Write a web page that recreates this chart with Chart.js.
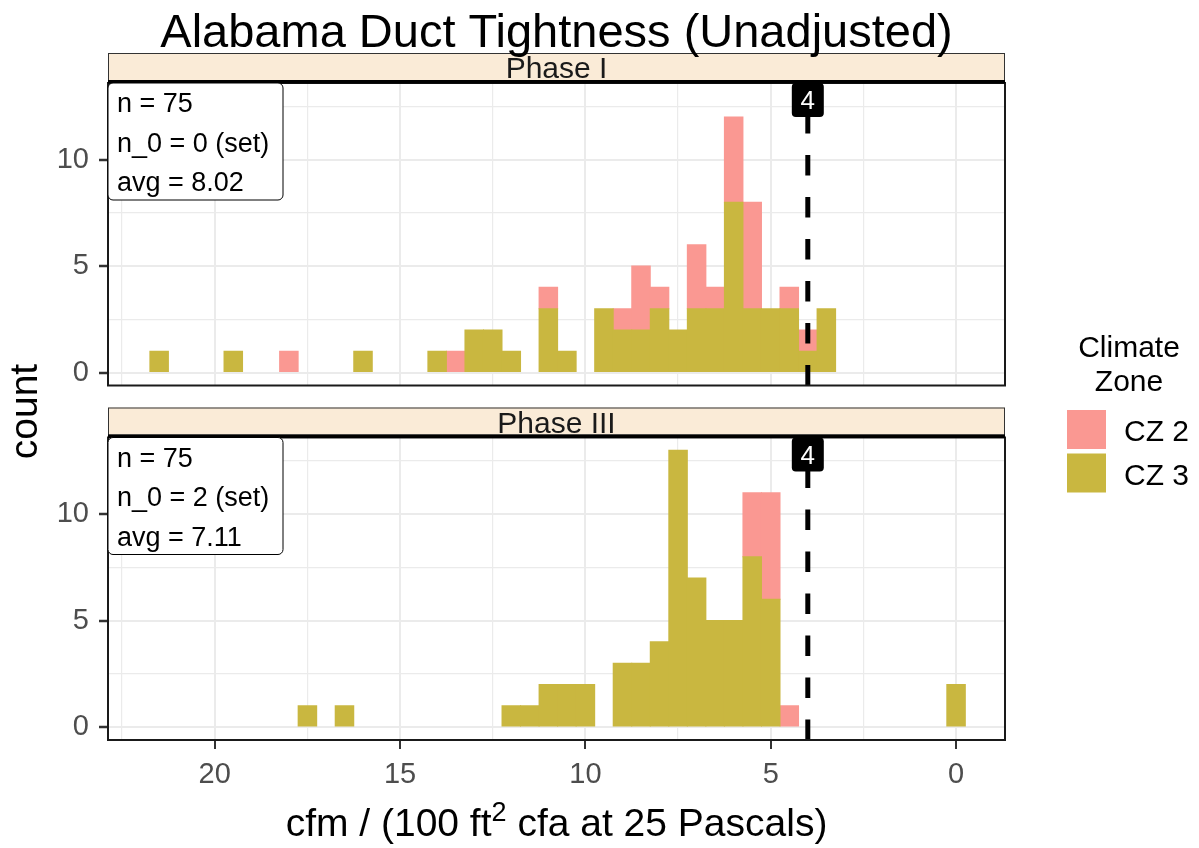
<!DOCTYPE html>
<html>
<head>
<meta charset="utf-8">
<script src="https://cdn.jsdelivr.net/npm/chart.js@4.4.1/dist/chart.umd.min.js"></script>
<style>
  html, body { margin: 0; padding: 0; background: #fff; }
  #wrap { position: relative; width: 1199px; height: 848px; overflow: hidden; }
  #wrap canvas { position: absolute; left: 0; top: 0; }
</style>
</head>
<body>
<div id="wrap">
  <canvas id="panel1" width="1199" height="848"></canvas>
  <canvas id="panel2" width="1199" height="848"></canvas>
</div>
<script>
// ---- data -------------------------------------------------------------
const chartTitle = 'Alabama Duct Tightness (Unadjusted)';
const phaseNames = ['Phase I', 'Phase III'];
const zoneNames = ['CZ 2', 'CZ 3'];
// light fills (75% tint of the base hues on white)
const zoneColors = ['#FA9892', '#C9B740'];

// histogram bins (centre of each 0.5-wide bin) and counts
const p1Cz3Bins   = [21.5, 19.5, 16, 14, 13, 12.5, 12, 11, 10.5, 9.5, 9, 8.5, 8, 7.5, 7, 6.5, 6, 5.5, 5, 4.5, 4, 3.5];
const p1Cz3Counts = [1, 1, 1, 1, 2, 2, 1, 3, 1, 3, 2, 2, 3, 2, 3, 3, 8, 3, 3, 3, 1, 3];
const p1Cz2Bins   = [18, 13.5, 11, 9, 8.5, 8, 7, 6.5, 6, 5.5, 4.5, 4];
const p1Cz2Counts = [1, 1, 1, 1, 3, 1, 3, 1, 4, 5, 1, 1];
const p3Cz3Bins   = [17.5, 16.5, 12, 11.5, 11, 10.5, 10, 9, 8.5, 8, 7.5, 7, 6.5, 6, 5.5, 5, 0];
const p3Cz3Counts = [1, 1, 1, 1, 2, 2, 2, 3, 3, 4, 13, 7, 5, 5, 8, 6, 2];
const p3Cz2Bins   = [5.5, 5, 4.5];
const p3Cz2Counts = [3, 5, 1];

// per-panel summary text
const statN   = [75, 75];
const statN0  = [0, 2];
const statAvg = ['8.02', '7.11'];

// target threshold marked on both panels
const targetValue = 4;

// axes
const xMajorTicks = [0, 5, 10, 15, 20];
const xMinorTicks = [2.5, 7.5, 12.5, 17.5, 22.5];
const yMajorTicks = [0, 5, 10];
const yMinorTicks = [2.5, 7.5, 12.5];
const xLimits = [-1.32, 22.88];
const yLimits = [-0.61, 13.6];
const xTitleMain = ['cfm / (100 ft', '2', ' cfa at 25 Pascals)'];
const yTitle = 'count';
const legendTitle = ['Climate', 'Zone'];

// ---- helpers ----------------------------------------------------------
const FONT = '"Liberation Sans", Arial, Helvetica, sans-serif';
const font = (size) => `${size}px ${FONT}`;

function toPoints(bins, counts) {
  return bins.map((b, i) => ({ x: b, y: counts[i] }));
}

function roundRect(ctx, x, y, w, h, r) {
  ctx.beginPath();
  ctx.moveTo(x + r, y);
  ctx.lineTo(x + w - r, y);
  ctx.arcTo(x + w, y, x + w, y + r, r);
  ctx.lineTo(x + w, y + h - r);
  ctx.arcTo(x + w, y + h, x + w - r, y + h, r);
  ctx.lineTo(x + r, y + h);
  ctx.arcTo(x, y + h, x, y + h - r, r);
  ctx.lineTo(x, y + r);
  ctx.arcTo(x, y, x + r, y, r);
  ctx.closePath();
}

// panel decoration: target line, frame, strip, summary box, target label
function panelDecor(pi) {
  return {
    id: 'panelDecor' + pi,
    afterDatasetsDraw(chart) {
      const { ctx, chartArea: a, scales: { x } } = chart;
      const xc = x.getPixelForValue(targetValue);

      // dashed target line
      ctx.save();
      ctx.beginPath();
      ctx.rect(a.left, a.top, a.right - a.left, a.bottom - a.top);
      ctx.clip();
      ctx.strokeStyle = '#000';
      ctx.lineWidth = 5;
      ctx.setLineDash([20.5, 21.5]);
      ctx.beginPath();
      ctx.moveTo(xc, a.bottom);
      ctx.lineTo(xc, a.top);
      ctx.stroke();
      ctx.restore();

      // panel frame
      ctx.save();
      ctx.strokeStyle = '#1a1a1a';
      ctx.lineWidth = 2;
      ctx.strokeRect(a.left, a.top, a.right - a.left, a.bottom - a.top);

      // facet strip
      const stripTop = a.top - 30, stripBottom = a.top - 3;
      ctx.fillStyle = '#FAEBD7';
      ctx.fillRect(a.left, stripTop, a.right - a.left, stripBottom - stripTop);
      ctx.strokeStyle = '#333';
      ctx.lineWidth = 1;
      ctx.strokeRect(a.left + 0.5, stripTop + 0.5, a.right - a.left - 1, stripBottom - stripTop);
      ctx.fillStyle = '#000';
      ctx.fillRect(a.left, a.top - 3, a.right - a.left, 3.5);
      ctx.fillStyle = '#1a1a1a';
      ctx.font = font(30);
      ctx.textAlign = 'center';
      ctx.textBaseline = 'alphabetic';
      ctx.fillText(phaseNames[pi], (a.left + a.right) / 2, stripBottom - 2);

      // summary box
      const lines = [`n = ${statN[pi]}`, `n_0 = ${statN0[pi]} (set)`, `avg = ${statAvg[pi]}`];
      roundRect(ctx, a.left, a.top, 175, 117, 5);
      ctx.fillStyle = '#fff';
      ctx.fill();
      ctx.strokeStyle = '#000';
      ctx.lineWidth = 1;
      ctx.stroke();
      ctx.fillStyle = '#000';
      ctx.font = font(27);
      ctx.textAlign = 'left';
      lines.forEach((t, i) => ctx.fillText(t, a.left + 9, a.top + 29 + i * 39.5));

      // target label
      roundRect(ctx, xc - 16, a.top, 32, 34, 4);
      ctx.fillStyle = '#000';
      ctx.fill();
      ctx.fillStyle = '#fff';
      ctx.font = font(26);
      ctx.textAlign = 'center';
      ctx.fillText(String(targetValue), xc, a.top + 26);
      ctx.restore();
    }
  };
}

// page-level text: title, axis titles, legend
const pageText = {
  id: 'pageText',
  afterDraw(chart) {
    const { ctx, chartArea: a } = chart;
    const cx = (a.left + a.right) / 2;
    ctx.save();
    ctx.fillStyle = '#000';
    ctx.textBaseline = 'alphabetic';

    ctx.font = font(47);
    ctx.textAlign = 'center';
    ctx.fillText(chartTitle, cx, 47);

    // x title with superscript
    const big = font(39), small = font(27);
    ctx.font = big; const w1 = ctx.measureText(xTitleMain[0]).width;
    ctx.font = small; const w2 = ctx.measureText(xTitleMain[1]).width;
    ctx.font = big; const w3 = ctx.measureText(xTitleMain[2]).width;
    let xs = cx - (w1 + w2 + w3) / 2;
    const base = 836;
    ctx.textAlign = 'left';
    ctx.font = big; ctx.fillText(xTitleMain[0], xs, base); xs += w1;
    ctx.font = small; ctx.fillText(xTitleMain[1], xs, base - 15); xs += w2;
    ctx.font = big; ctx.fillText(xTitleMain[2], xs, base);

    // y title
    ctx.save();
    ctx.translate(37, 411.5);
    ctx.rotate(-Math.PI / 2);
    ctx.textAlign = 'center';
    ctx.font = font(39);
    ctx.fillText(yTitle, 0, 0);
    ctx.restore();

    // legend
    ctx.font = font(30);
    ctx.textAlign = 'center';
    ctx.fillText(legendTitle[0], 1129, 357);
    ctx.fillText(legendTitle[1], 1129, 391);
    ctx.textAlign = 'left';
    zoneNames.forEach((name, i) => {
      const ky = 410 + i * 43.5;
      ctx.fillStyle = zoneColors[i];
      ctx.fillRect(1067, ky, 39, 39);
      ctx.fillStyle = '#000';
      ctx.fillText(name, 1124, ky + 31);
    });
    ctx.restore();
  }
};

const gridColor = '#EBEBEB';
const isMajorX = (v) => xMajorTicks.includes(v);
const isMajorY = (v) => yMajorTicks.includes(v);

function makePanel(canvasId, pi, cz2, cz3, showX, pad) {
  return new Chart(document.getElementById(canvasId), {
    type: 'bar',
    data: {
      datasets: [
        { label: zoneNames[1], data: cz3, backgroundColor: zoneColors[1] },
        { label: zoneNames[0], data: cz2, backgroundColor: zoneColors[0] }
      ]
    },
    options: {
      responsive: false,
      animation: false,
      events: [],
      layout: { padding: { left: 0, right: 194, top: pad.top, bottom: pad.bottom } },
      plugins: { legend: { display: false }, tooltip: { enabled: false }, title: { display: false } },
      datasets: { bar: { barPercentage: 1, categoryPercentage: 1, borderWidth: 0, inflateAmount: 0.5 } },
      scales: {
        x: {
          type: 'linear',
          reverse: true,
          stacked: true,
          offset: false,
          min: xLimits[0],
          max: xLimits[1],
          afterBuildTicks: (s) => {
            s.ticks = [...xMajorTicks, ...xMinorTicks].sort((m, n) => m - n).map(v => ({ value: v }));
          },
          afterFit: (s) => { s.height = showX ? 60 : 0; },
          border: { display: false },
          grid: {
            offset: false,
            color: gridColor,
            lineWidth: (c) => (c.tick && isMajorX(c.tick.value) ? 2 : 1.2),
            drawTicks: showX,
            tickLength: 9,
            tickWidth: 2,
            tickColor: (c) => (c.tick && isMajorX(c.tick.value) ? '#333' : 'rgba(0,0,0,0)')
          },
          ticks: {
            display: showX,
            autoSkip: false,
            maxRotation: 0,
            padding: 9,
            color: '#4D4D4D',
            font: { family: FONT, size: 29 },
            callback: (v) => (isMajorX(v) ? String(v) : '')
          }
        },
        y: {
          type: 'linear',
          stacked: true,
          min: yLimits[0],
          max: yLimits[1],
          afterBuildTicks: (s) => {
            s.ticks = [...yMajorTicks, ...yMinorTicks].sort((m, n) => m - n).map(v => ({ value: v }));
          },
          afterFit: (s) => { s.width = 108; },
          border: { display: false },
          grid: {
            color: gridColor,
            lineWidth: (c) => (c.tick && isMajorY(c.tick.value) ? 2 : 1.2),
            drawTicks: true,
            tickLength: 9,
            tickWidth: 2.5,
            tickColor: (c) => (c.tick && isMajorY(c.tick.value) ? '#333' : 'rgba(0,0,0,0)')
          },
          ticks: {
            autoSkip: false,
            padding: 10,
            color: '#4D4D4D',
            font: { family: FONT, size: 29 },
            callback: (v) => (isMajorY(v) ? String(v) : '')
          }
        }
      }
    },
    plugins: pi === 1 ? [panelDecor(pi), pageText] : [panelDecor(pi)]
  });
}

makePanel('panel1', 0, toPoints(p1Cz2Bins, p1Cz2Counts), toPoints(p1Cz3Bins, p1Cz3Counts), false,
  { top: 83, bottom: 848 - 385.5 });
makePanel('panel2', 1, toPoints(p3Cz2Bins, p3Cz2Counts), toPoints(p3Cz3Bins, p3Cz3Counts), true,
  { top: 437.5, bottom: 848 - 740 - 60 });
</script>
</body>
</html>
